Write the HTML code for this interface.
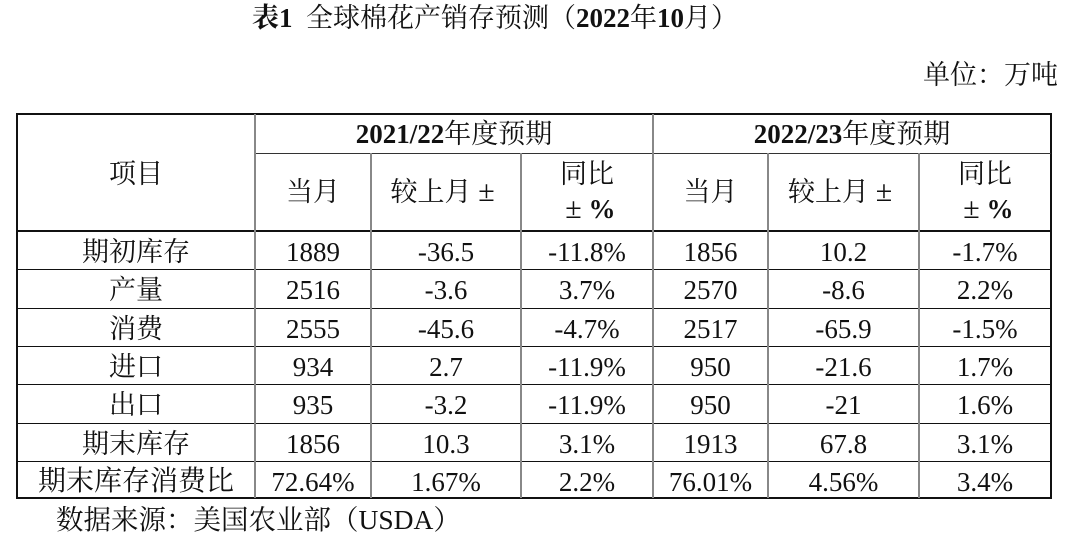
<!DOCTYPE html>
<html>
<head>
<meta charset="utf-8">
<style>
html,body{margin:0;padding:0;background:#fff;}
body{width:1080px;height:541px;position:relative;overflow:hidden;
font-family:"Liberation Serif","Noto Serif CJK SC","Noto Sans CJK SC",serif;color:#111;}
.a{position:absolute;}
.title{left:252px;top:0px;font-size:27px;line-height:36px;white-space:nowrap;}
.title b{font-weight:bold;}
.unit{right:22px;top:58px;font-size:27px;line-height:34px;white-space:nowrap;}
.foot{left:56px;top:503px;font-size:27.5px;line-height:34px;white-space:nowrap;}
.hl{position:absolute;height:1px;background:#111;}
.vl{position:absolute;width:2px;background:#888;}
.row{position:absolute;left:17px;width:1034px;display:flex;font-size:27px;white-space:nowrap;}
.row div{text-align:center;padding-top:3px;box-sizing:border-box;}
.c0{width:238px}.c1{width:116px}.c2{width:150px}.c3{width:132px}.c4{width:115px}.c5{width:151px}.c6{width:132px}
.h{font-size:27px;text-align:center;white-space:nowrap;position:absolute;}
.pm{display:inline-block;width:1em;text-align:center;font-size:30px;line-height:1;}
</style>
</head>
<body>
<div class="a title"><b>表1</b>&nbsp;&nbsp;全球棉花产销存预测（<b>2022</b>年<b>10</b>月）</div>
<div class="a unit">单位：万吨</div>

<!-- outer border -->
<div class="a" style="left:16px;top:113px;width:1032px;height:382px;border:2px solid #111;"></div>

<!-- horizontal lines -->
<div class="hl" style="left:255px;top:153px;width:796px;background:#333;"></div>
<div class="hl" style="left:17px;top:230px;width:1034px;height:2px;"></div>
<div class="hl" style="left:17px;top:269px;width:1034px;"></div>
<div class="hl" style="left:17px;top:308px;width:1034px;"></div>
<div class="hl" style="left:17px;top:346px;width:1034px;"></div>
<div class="hl" style="left:17px;top:384px;width:1034px;"></div>
<div class="hl" style="left:17px;top:423px;width:1034px;"></div>
<div class="hl" style="left:17px;top:461px;width:1034px;"></div>

<!-- vertical lines -->
<div class="vl" style="left:254px;top:114px;height:384px;"></div>
<div class="vl" style="left:370px;top:153px;height:345px;"></div>
<div class="vl" style="left:520px;top:153px;height:345px;"></div>
<div class="vl" style="left:652px;top:114px;height:384px;"></div>
<div class="vl" style="left:767px;top:153px;height:345px;"></div>
<div class="vl" style="left:918px;top:153px;height:345px;"></div>

<!-- header -->
<div class="h" style="left:17px;width:238px;top:156px;line-height:36px;">项目</div>
<div class="h" style="left:255px;width:398px;top:116px;line-height:36px;"><b>2021/22</b>年度预期</div>
<div class="h" style="left:653px;width:398px;top:116px;line-height:36px;"><b>2022/23</b>年度预期</div>

<div class="h" style="left:255px;width:116px;top:174px;line-height:36px;">当月</div>
<div class="h" style="left:371px;width:150px;top:174px;line-height:36px;">较上月<span class="pm">±</span></div>
<div class="h" style="left:521px;width:132px;top:157px;line-height:35px;">同比<br><span class="pm">±</span><b>%</b></div>

<div class="h" style="left:653px;width:115px;top:174px;line-height:36px;">当月</div>
<div class="h" style="left:768px;width:151px;top:174px;line-height:36px;">较上月<span class="pm">±</span></div>
<div class="h" style="left:919px;width:132px;top:157px;line-height:35px;">同比<br><span class="pm">±</span><b>%</b></div>

<!-- body rows -->
<div class="row" style="top:231px;height:38px;line-height:36px;"><div class="c0">期初库存</div><div class="c1">1889</div><div class="c2">-36.5</div><div class="c3">-11.8%</div><div class="c4">1856</div><div class="c5">10.2</div><div class="c6">-1.7%</div></div>
<div class="row" style="top:269px;height:39px;line-height:37px;"><div class="c0">产量</div><div class="c1">2516</div><div class="c2">-3.6</div><div class="c3">3.7%</div><div class="c4">2570</div><div class="c5">-8.6</div><div class="c6">2.2%</div></div>
<div class="row" style="top:308px;height:38px;line-height:36px;"><div class="c0">消费</div><div class="c1">2555</div><div class="c2">-45.6</div><div class="c3">-4.7%</div><div class="c4">2517</div><div class="c5">-65.9</div><div class="c6">-1.5%</div></div>
<div class="row" style="top:346px;height:38px;line-height:36px;"><div class="c0">进口</div><div class="c1">934</div><div class="c2">2.7</div><div class="c3">-11.9%</div><div class="c4">950</div><div class="c5">-21.6</div><div class="c6">1.7%</div></div>
<div class="row" style="top:384px;height:39px;line-height:37px;"><div class="c0">出口</div><div class="c1">935</div><div class="c2">-3.2</div><div class="c3">-11.9%</div><div class="c4">950</div><div class="c5">-21</div><div class="c6">1.6%</div></div>
<div class="row" style="top:423px;height:38px;line-height:36px;"><div class="c0">期末库存</div><div class="c1">1856</div><div class="c2">10.3</div><div class="c3">3.1%</div><div class="c4">1913</div><div class="c5">67.8</div><div class="c6">3.1%</div></div>
<div class="row" style="top:461px;height:38px;line-height:36px;"><div class="c0" style="font-size:28px;">期末库存消费比</div><div class="c1">72.64%</div><div class="c2">1.67%</div><div class="c3">2.2%</div><div class="c4">76.01%</div><div class="c5">4.56%</div><div class="c6">3.4%</div></div>

<div class="a foot">数据来源：美国农业部（USDA）</div>
</body>
</html>
